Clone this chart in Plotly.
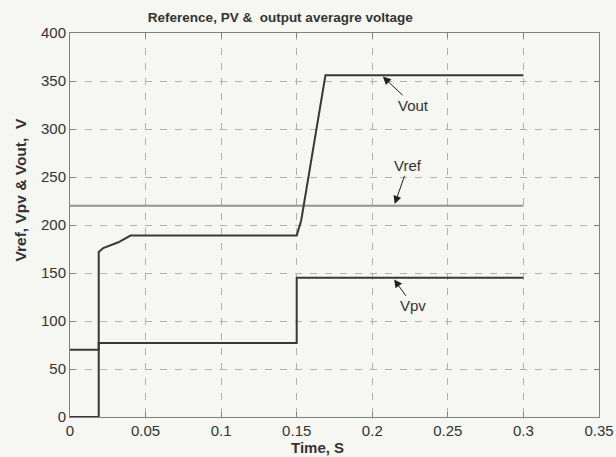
import plotly.graph_objects as go

# Simulated waveforms (time in seconds, voltage in volts)
t_vout = [0, 0.019, 0.019, 0.022, 0.032, 0.04, 0.15, 0.153, 0.169, 0.3]
v_out = [0, 0, 172, 176, 182, 189, 189, 205, 356, 356]

t_vpv = [0, 0.019, 0.019, 0.15, 0.15, 0.3]
v_pv = [70, 70, 77, 77, 145, 145]

t_vref = [0, 0.3]
v_ref = [220, 220]

x_ticks = [0, 0.05, 0.1, 0.15, 0.2, 0.25, 0.3, 0.35]
x_labels = ["0", "0.05", "0.1", "0.15", "0.2", "0.25", "0.3", "0.35"]
y_ticks = [0, 50, 100, 150, 200, 250, 300, 350, 400]

ink = "#333333"
font = "Liberation Sans, Arial, sans-serif"

fig = go.Figure()
fig.add_trace(go.Scatter(x=t_vref, y=v_ref, mode="lines",
                         line=dict(color="#939393", width=2), name="Vref"))
fig.add_trace(go.Scatter(x=t_vpv, y=v_pv, mode="lines",
                         line=dict(color="#383838", width=2), name="Vpv"))
fig.add_trace(go.Scatter(x=t_vout, y=v_out, mode="lines",
                         line=dict(color="#383838", width=2), name="Vout"))

# Arrow labels pointing at each curve: (text, x, y, text offset in px)
labels = [("Vout", 0.206, v_out[-1], 32, 30),
          ("Vref", 0.2144, v_ref[-1], 14, -40),
          ("Vpv", 0.2137, v_pv[-1], 20, 28)]
for text, x, y, ax, ay in labels:
    fig.add_annotation(x=x, y=y, text=text, showarrow=True,
                       ax=ax, ay=ay, arrowhead=2, arrowsize=1.6,
                       arrowwidth=1, arrowcolor="#222222", standoff=2,
                       font=dict(family=font, size=15, color=ink))

# Axis titles placed as annotations
fig.add_annotation(x=0.467, y=-0.08, xref="paper", yref="paper",
                   text="<b>Time, S</b>", showarrow=False,
                   xanchor="center", yanchor="middle",
                   font=dict(family=font, size=15, color=ink))
fig.add_annotation(x=-0.0945, y=0.59, xref="paper", yref="paper",
                   text="<b>Vref, Vpv & Vout,  V</b>", showarrow=False,
                   textangle=-90, xanchor="center", yanchor="middle",
                   font=dict(family=font, size=15.5, color=ink))

axis_common = dict(showline=True, linecolor="#808080", linewidth=1, mirror="ticks",
                   ticks="inside", ticklen=5, tickcolor="#808080",
                   showgrid=True, gridcolor="#b0b0b0", griddash="7px,8px", gridwidth=1,
                   zeroline=False, automargin=False,
                   tickfont=dict(family=font, size=15, color=ink))

fig.update_xaxes(range=[0, 0.35], tickvals=x_ticks, ticktext=x_labels, **axis_common)
fig.update_yaxes(range=[0, 400], tickvals=y_ticks, **axis_common)

fig.update_layout(
    width=616, height=457,
    margin=dict(l=70, r=17, t=33, b=40),
    paper_bgcolor="#f6f6f3", plot_bgcolor="#f6f6f3",
    showlegend=False,
    title=dict(text="<b>Reference, PV &  output averagre voltage</b>",
               x=0.455, xanchor="center", y=0.963, yanchor="middle",
               font=dict(family=font, size=13.5, color=ink)),
)

fig.write_html("out.html")
